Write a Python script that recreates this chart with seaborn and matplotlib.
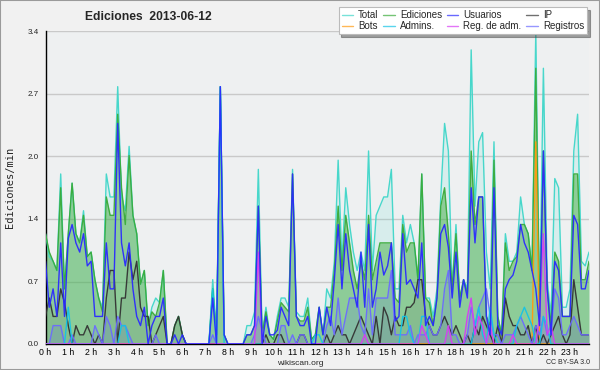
import numpy as np
import pandas as pd
import matplotlib
matplotlib.use("Agg")
import matplotlib.pyplot as plt
import seaborn as sns
from matplotlib.lines import Line2D
from matplotlib.patches import Rectangle
from matplotlib.ticker import FixedLocator, MultipleLocator, FixedFormatter

# ---- data (edits per minute, 10-minute bins, 2013-06-12) ----
hour_labels = [f"{h} h" for h in range(24)]

total = [1.2, 0.95, 0.9, 0.8, 1.85, 0.6,   1.2, 1.75, 1.2, 1.1, 1.45, 0.95,
         1.0, 0.7, 0.5, 0.4, 1.85, 1.6,    1.6, 2.8, 1.6, 1.45, 2.15, 1.4,
         1.2, 0.65, 0.8, 0.2, 0.4, 0.5,    0.45, 0.8, 0.0, 0.0, 0.2, 0.3,
         0.1, 0.0, 0.0, 0.0, 0.0, 0.0,     0.0, 0.0, 0.7, 0.1, 2.8, 0.1,
         0.0, 0.0, 0.0, 0.0, 0.0, 0.2,     0.2, 0.35, 1.9, 0.1, 0.4, 0.1,
         0.05, 0.3, 0.5, 0.5, 0.4, 1.9,    0.35, 0.3, 0.3, 0.5, 0.05, 0.1,
         0.4, 0.1, 0.6, 0.5, 0.9, 2.0,     0.9, 1.7, 1.3, 1.0, 0.8, 1.0,
         0.8, 2.1, 0.8, 1.4, 1.5, 1.6,     1.6, 1.9, 0.6, 0.6, 1.4, 1.1,
         1.3, 1.1, 0.7, 1.85, 0.5, 0.5,    0.3, 0.6, 1.6, 2.4, 2.1, 0.6,
         1.3, 0.5, 0.7, 0.6, 3.2, 1.5,     2.2, 2.3, 1.0, 0.6, 2.2, 0.3,
         0.1, 1.2, 0.9, 0.9, 1.0, 1.6,     1.3, 1.2, 0.8, 3.4, 0.4, 3.0,
         0.7, 0.3, 1.8, 1.7, 0.4, 0.4,     0.6, 2.1, 2.5, 0.9, 0.85, 1.0]

ediciones = [1.2, 1.0, 0.9, 0.8, 1.7, 0.6,   1.2, 1.75, 1.2, 1.1, 1.4, 0.95,
             1.0, 0.7, 0.5, 0.35, 1.6, 1.4,  1.4, 2.5, 1.7, 1.3, 2.05, 1.4,
             1.2, 0.65, 0.8, 0.2, 0.35, 0.3, 0.45, 0.8, 0.0, 0.0, 0.2, 0.3,
             0.1, 0.0, 0.0, 0.0, 0.0, 0.0,   0.0, 0.0, 0.6, 0.1, 2.8, 0.1,
             0.0, 0.0, 0.0, 0.0, 0.0, 0.1,   0.1, 0.2, 1.5, 0.1, 0.35, 0.1,
             0.05, 0.25, 0.45, 0.4, 0.35, 1.85, 0.3, 0.25, 0.25, 0.4, 0.05, 0.1,
             0.4, 0.1, 0.4, 0.4, 0.8, 1.5,   0.8, 1.4, 1.1, 0.8, 0.6, 0.9,
             0.7, 1.4, 0.7, 0.9, 1.1, 1.1,   1.1, 1.1, 0.5, 0.45, 1.3, 1.0,
             1.1, 1.1, 0.7, 1.85, 0.5, 0.45, 0.2, 0.5, 1.5, 1.7, 1.2, 0.6,
             1.2, 0.5, 0.7, 0.55, 2.1, 1.3,  1.6, 1.6, 0.3, 0.2, 2.0, 0.3,
             0.1, 1.1, 0.8, 0.9, 0.95, 1.3,  1.3, 1.2, 0.8, 3.0, 0.3, 2.1,
             0.6, 0.2, 1.0, 0.9, 0.3, 0.3,   0.3, 1.85, 1.85, 0.7, 0.7, 0.9]

usuarios = [0.9, 0.4, 0.6, 0.3, 1.1, 0.3,   1.15, 1.3, 1.1, 1.0, 1.2, 0.85,
            0.9, 0.3, 0.3, 0.3, 1.1, 0.6,   0.6, 2.4, 1.1, 0.85, 1.1, 0.6,
            0.3, 0.2, 0.4, 0.0, 0.2, 0.3,   0.3, 0.5, 0.0, 0.0, 0.1, 0.0,
            0.1, 0.0, 0.0, 0.0, 0.0, 0.0,   0.0, 0.0, 0.5, 0.0, 2.8, 0.1,
            0.0, 0.0, 0.0, 0.0, 0.0, 0.1,   0.1, 0.2, 1.5, 0.0, 0.3, 0.1,
            0.1, 0.15, 0.4, 0.3, 0.2, 1.85, 0.3, 0.2, 0.2, 0.3, 0.0, 0.0,
            0.4, 0.1, 0.4, 0.2, 0.7, 1.3,   0.6, 1.2, 0.8, 0.6, 0.4, 1.0,
            0.4, 1.3, 0.4, 0.6, 1.0, 0.75,  0.85, 1.1, 0.25, 0.3, 1.2, 0.65,
            0.7, 0.6, 0.5, 1.1, 0.2, 0.3,   0.2, 0.5, 1.2, 1.3, 1.05, 0.5,
            1.0, 0.4, 0.7, 0.5, 1.7, 1.1,   1.6, 1.6, 0.3, 0.1, 1.7, 0.2,
            0.1, 0.6, 0.7, 0.75, 0.9, 1.3,  1.1, 1.0, 0.8, 0.6, 0.2, 2.1,
            0.6, 0.1, 0.9, 0.8, 0.3, 0.3,   0.3, 1.4, 1.3, 0.6, 0.6, 0.8]

ip = [0.3, 0.5, 0.3, 0.3, 0.6, 0.45,  0.2, 0.0, 0.2, 0.1, 0.1, 0.2,
      0.1, 0.0, 0.1, 0.0, 0.5, 0.8,   0.8, 0.0, 0.5, 0.5, 1.0, 0.7,
      0.9, 0.4, 0.3, 0.3, 0.0, 0.1,   0.2, 0.3, 0.0, 0.0, 0.2, 0.3,
      0.1, 0.0, 0.0, 0.0, 0.0, 0.0,   0.0, 0.0, 0.0, 0.0, 0.0, 0.0,
      0.0, 0.0, 0.0, 0.0, 0.0, 0.0,   0.0, 0.0, 0.0, 0.0, 0.1, 0.0,
      0.0, 0.1, 0.1, 0.0, 0.0, 0.0,   0.0, 0.1, 0.1, 0.0, 0.0, 0.0,
      0.0, 0.0, 0.1, 0.0, 0.1, 0.2,   0.1, 0.1, 0.0, 0.1, 0.2, 0.3,
      0.2, 0.1, 0.0, 0.3, 0.0, 0.4,   0.3, 0.1, 0.3, 0.2, 0.2, 0.4,
      0.4, 0.45, 0.7, 0.7, 0.3, 0.2,  0.1, 0.1, 0.2, 0.3, 0.2, 0.1,
      0.2, 0.1, 0.0, 0.1, 0.0, 0.2,   0.1, 0.3, 0.2, 0.1, 0.0, 0.2,
      0.0, 0.5, 0.3, 0.2, 0.2, 0.1,   0.1, 0.2, 0.0, 0.2, 0.0, 0.1,
      0.0, 0.1, 0.2, 0.3, 0.1, 0.0,   0.1, 0.7, 0.4, 0.1, 0.1, 0.1]

bots = [0.0] * 6 * 21 + [0.0, 0.0, 0.0, 2.2, 0.0, 0.0] + [0.0] * 12

admins = [0.0, 0.0, 0.0, 0.0, 0.0, 0.0,   0.4, 0.0, 0.0, 0.0, 0.0, 0.0,
          0.0, 0.0, 0.0, 0.0, 0.0, 0.0,   0.0, 0.0, 0.2, 0.2, 0.0, 0.0,
          0.0, 0.0, 0.0, 0.0, 0.0, 0.0,   0.0, 0.0, 0.0, 0.0, 0.0, 0.0,
          0.0, 0.0, 0.0, 0.0, 0.0, 0.0,   0.0, 0.0, 0.6, 0.0, 2.8, 0.0,
          0.0, 0.0, 0.0, 0.0, 0.0, 0.0,   0.0, 0.0, 0.0, 0.0, 0.0, 0.0,
          0.0, 0.0, 0.0, 0.0, 0.0, 0.0,   0.0, 0.0, 0.0, 0.0, 0.0, 0.1,
          0.1, 0.0, 0.0, 0.0, 0.0, 0.0,   0.0, 0.0, 0.0, 0.0, 0.0, 0.0,
          0.0, 0.0, 0.0, 0.0, 0.0, 0.0,   0.0, 0.0, 0.0, 0.0, 0.3, 0.3,
          0.1, 0.0, 0.0, 0.3, 0.3, 0.0,   0.0, 0.0, 0.0, 0.0, 0.0, 0.0,
          0.0, 0.0, 0.0, 0.0, 0.0, 0.2,   0.4, 0.1, 0.0, 0.4, 0.1, 0.0,
          0.0, 0.0, 0.0, 0.0, 0.2, 0.3,   0.4, 0.3, 0.2, 0.0, 0.0, 0.3,
          0.2, 0.0, 0.0, 0.0, 0.0, 0.0,   0.0, 0.0, 0.0, 0.0, 0.0, 0.0]

reg_adm = [0.0] * 56 + [1.0] + [0.0] * 27 + \
          [0.1, 0.0, 0.0, 0.0, 0.0, 0.0,   0.0, 0.0, 0.0, 0.0, 0.0, 0.0,
           0.0, 0.0, 0.0, 0.2, 0.1, 0.0,   0.0, 0.0, 0.0, 0.0, 0.2, 0.0,
           0.0, 0.0, 0.0, 0.3, 0.5, 0.1,   0.3, 0.2, 0.0, 0.2, 0.0, 0.0,
           0.0, 0.0, 0.0, 0.1, 0.0, 0.0,   0.0, 0.0, 0.0, 0.0, 0.3, 1.2,
           0.1, 0.2, 0.0, 0.0, 0.0, 0.0,   0.0, 0.0, 0.0, 0.0, 0.0, 0.0]

registros = [0.0, 0.0, 0.2, 0.2, 0.2, 0.0,   0.0, 0.1, 0.0, 0.0, 0.0, 0.0,
             0.0, 0.2, 0.1, 0.0, 0.3, 0.2,   0.0, 0.3, 0.2, 0.2, 0.1, 0.0,
             0.0, 0.0, 0.0, 0.0, 0.0, 0.1,   0.0, 0.0, 0.0, 0.0, 0.0, 0.0,
             0.0, 0.0, 0.0, 0.0, 0.0, 0.0,   0.0, 0.0, 0.1, 0.0, 0.0, 0.0,
             0.0, 0.0, 0.0, 0.0, 0.0, 0.0,   0.0, 0.1, 0.3, 0.15, 0.0, 0.0,
             0.0, 0.0, 0.2, 0.2, 0.0, 0.1,   0.0, 0.1, 0.1, 0.0, 0.0, 0.0,
             0.0, 0.0, 0.2, 0.3, 0.1, 0.5,   0.1, 0.3, 0.5, 0.5, 0.5, 0.2,
             0.1, 0.6, 0.1, 0.5, 0.5, 0.5,   0.5, 0.8, 0.1, 0.1, 0.1, 0.1,
             0.2, 0.0, 0.1, 0.1, 0.1, 0.2,   0.1, 0.1, 0.2, 0.6, 0.8, 0.1,
             0.1, 0.0, 0.0, 0.1, 0.4, 0.2,   0.4, 0.5, 0.6, 0.3, 0.1, 0.1,
             0.0, 0.1, 0.1, 0.1, 0.2, 0.3,   0.2, 0.1, 0.0, 0.2, 0.1, 0.3,
             0.1, 0.1, 0.6, 0.5, 0.1, 0.1,   0.2, 0.3, 0.2, 0.1, 0.1, 0.1]

y_ticks = [0.0, 0.68, 1.36, 2.04, 2.72, 3.4]
y_tick_labels = ["0.0", "0.7", "1.4", "2.0", "2.7", "3.4"]

# ---- styling ----
sns.set_style("white")
plt.rcParams['font.family'] = ['Liberation Sans', 'DejaVu Sans']

colors = {
    'Total': '#3fd6c9',
    'Ediciones': '#3aab3a',
    'Usuarios': '#2a2aff',
    'IP': '#333333',
    'Bots': '#ff9a10',
    'Admins.': '#14c4e6',
    'Reg. de adm.': '#d83cf5',
    'Registros': '#6b6bff',
}

n = len(total)
xs = np.arange(n)
df = pd.DataFrame({'x': xs, 'Total': total, 'Ediciones': ediciones,
                   'Usuarios': usuarios, 'IP': ip, 'Bots': bots,
                   'Admins.': admins, 'Reg. de adm.': reg_adm,
                   'Registros': registros})
long = df.melt(id_vars='x', var_name='serie', value_name='v')

fig = plt.figure(figsize=(6, 3.7), dpi=100, facecolor='#f1f1f1')
ax = fig.add_axes([45.5 / 600, 26 / 370, (589 - 45.5) / 600, (344 - 31.5) / 370])
ax.set_facecolor('#eef0f1')

# filled areas
ax.fill_between(xs, total, color='#40e0d0', alpha=0.13, lw=0, zorder=1)
ax.fill_between(xs, ediciones, color='#45ad45', alpha=0.5, lw=0, zorder=2)
ax.fill_between(xs, ip, color='#555555', alpha=0.12, lw=0, zorder=2)
ax.fill_between(xs, registros, color='#4a4aff', alpha=0.12, lw=0, zorder=2)
ax.fill_between(xs, reg_adm, color='#d83cf5', alpha=0.15, lw=0, zorder=2)

draw_order = ['Total', 'Ediciones', 'Bots', 'IP', 'Registros', 'Admins.',
              'Reg. de adm.', 'Usuarios']
for k, name in enumerate(draw_order):
    sub = long[long['serie'] == name]
    sns.lineplot(data=sub, x='x', y='v', ax=ax, color=colors[name],
                 linewidth=1.0, alpha=0.95, legend=False, zorder=3 + k)

# axes & ticks
ax.set_xlim(0, n - 1)
ax.set_ylim(0, 3.4)
ax.xaxis.set_major_locator(FixedLocator(list(range(0, n, 6))))
ax.xaxis.set_major_formatter(FixedFormatter(hour_labels))
ax.xaxis.set_minor_locator(MultipleLocator(1))
ax.yaxis.set_major_locator(FixedLocator(y_ticks))
ax.yaxis.set_major_formatter(FixedFormatter(y_tick_labels))
ax.yaxis.set_minor_locator(MultipleLocator(0.17))
ax.tick_params(axis='x', which='major', direction='out', length=3, width=0.8,
               labelsize=6.3, pad=0, colors='black')
ax.tick_params(axis='x', which='minor', direction='out', length=3, width=0.8)
ax.tick_params(axis='y', which='major', direction='out', length=4, width=0.8,
               labelsize=5.8, pad=1)
ax.tick_params(axis='y', which='minor', direction='out', length=2.5, width=0.8)
ax.set_xlabel('')
ax.set_ylabel('Ediciones/min', family='DejaVu Sans Mono', fontsize=7.5, labelpad=9)
ax.grid(axis='y', which='major', color='#c9c9c9', lw=1, zorder=0)
ax.set_axisbelow(True)
for s in ['top', 'right']:
    ax.spines[s].set_visible(False)
for s in ['left', 'bottom']:
    ax.spines[s].set_color('black')
    ax.spines[s].set_linewidth(1.0)

# title and footer texts
fig.text(85 / 600, 1 - 17 / 370, 'Ediciones  2013-06-12', fontsize=8.7,
         fontweight='bold', ha='left', va='center')
fig.text(300 / 600, 1 - 363.5 / 370, 'wikiscan.org', fontsize=6.0,
         ha='center', va='center')
fig.text(590 / 600, 1 - 363 / 370, 'CC BY-SA 3.0', fontsize=5,
         ha='right', va='center')

# legend
leg_order = ['Total', 'Bots', 'Ediciones', 'Admins.', 'Usuarios',
             'Reg. de adm.', 'IP', 'Registros']
handles = [Line2D([0], [0], color=colors[k], lw=1.0, alpha=0.7) for k in leg_order]
leg = fig.legend(handles, leg_order, loc='upper right',
                 bbox_to_anchor=(587 / 600, 1 - 7 / 370), ncol=4,
                 fontsize=7, frameon=True, fancybox=False, shadow=True,
                 handlelength=1.2, handletextpad=0.5, columnspacing=0.5,
                 labelspacing=0.15, borderpad=0.3, borderaxespad=0)
leg.get_frame().set_facecolor('white')
leg.get_frame().set_edgecolor('#bbbbbb')
leg.get_frame().set_linewidth(0.8)

# outer border
fig.patches.append(Rectangle((0, 0), 1, 1, transform=fig.transFigure,
                             fill=False, edgecolor='#9a9a9a', lw=1.5))

fig.savefig('out.png', dpi=100, facecolor=fig.get_facecolor())
